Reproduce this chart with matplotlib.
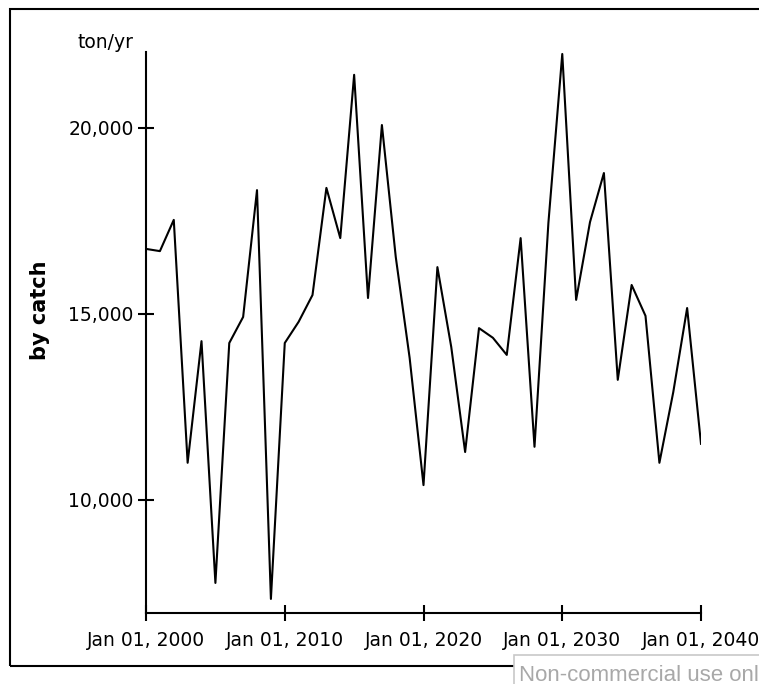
from datetime import date

import matplotlib
matplotlib.use('Agg')
import matplotlib.pyplot as plt
import matplotlib.dates as mdates
from matplotlib.patches import Rectangle
from matplotlib.ticker import FuncFormatter


PNG_FILE_NAME = 'out.png'

YEARS = list(range(2000, 2041))
BY_CATCH = [
    16750, 16690, 17530, 11000, 14270, 7770, 14220, 14920, 18330, 7340,
    14220, 14790, 15510, 18390, 17040, 21430, 15430, 20080, 16530, 13820,
    10400, 16260, 14110, 11290, 14620, 14360, 13900, 17040, 11430, 17450,
    21990, 15380, 17470, 18790, 13230, 15780, 14950, 11000, 12900, 15160,
    11510,
]
Y_TICKS = [10000, 15000, 20000]
X_TICK_YEARS = [2000, 2010, 2020, 2030, 2040]
Y_UNIT = 'ton/yr'
Y_LABEL = 'by catch'


def create_catch_plot() -> str:
    """
    Draws the yearly by-catch series as a plain black line with a
    framed border and saves it as a PNG image.

    :return: The file path of the generated PNG image.
    """
    fig = plt.figure(figsize=(7.59, 6.84), dpi=100)
    try:
        ax = fig.add_axes([146 / 759, 1 - 613 / 684, 555 / 759, 561 / 684])
        dates = [date(y, 1, 1) for y in YEARS]
        ax.plot(dates, BY_CATCH, color='black', linewidth=1.5)

        ax.set_xlim(date(2000, 1, 1), date(2040, 1, 1))
        ax.set_ylim(6962, 22043)

        ax.set_xticks([date(y, 1, 1) for y in X_TICK_YEARS])
        ax.xaxis.set_major_formatter(mdates.DateFormatter('%b %d, %Y'))
        ax.set_yticks(Y_TICKS)
        ax.yaxis.set_major_formatter(FuncFormatter(lambda v, _: f'{int(v):,}'))

        for side in ('top', 'right'):
            ax.spines[side].set_visible(False)
        for side in ('left', 'bottom'):
            ax.spines[side].set_linewidth(1.5)
            ax.spines[side].set_color('black')

        ax.tick_params(axis='both', direction='inout', length=12, width=1.5,
                       labelsize=13.5, colors='black')
        ax.tick_params(axis='x', pad=7)
        ax.tick_params(axis='y', pad=3)

        # axis title and unit sit in figure space, left of the axis
        fig.text(40 / 759, 1 - 310 / 684, Y_LABEL, fontsize=15, fontweight='bold',
                 rotation=90, ha='center', va='center')
        fig.text(78 / 759, 1 - 48 / 684, Y_UNIT, fontsize=13.5, ha='left', va='baseline')

        # outer border, open on the right edge
        fig.patches.append(Rectangle((9.5 / 759, 1 - 666 / 684), 1.0, (666 - 8.5) / 684,
                                     transform=fig.transFigure, fill=False,
                                     edgecolor='black', linewidth=1.5))

        # licence notice in the lower right corner
        fig.patches.append(Rectangle((514 / 759, -0.05), 0.5, 0.05 + (684 - 655) / 684,
                                     transform=fig.transFigure, facecolor='white',
                                     edgecolor='#c8c8c8', linewidth=1.2, zorder=5))
        fig.text(519 / 759, 1 - 681 / 684, 'Non-commercial use only',
                 family='Liberation Sans', fontsize=16, color='#a8a8a8',
                 ha='left', va='baseline', zorder=6)

        fig.savefig(PNG_FILE_NAME, dpi=100, facecolor='white')
    finally:
        plt.close(fig)
    return PNG_FILE_NAME


if __name__ == '__main__':
    create_catch_plot()
